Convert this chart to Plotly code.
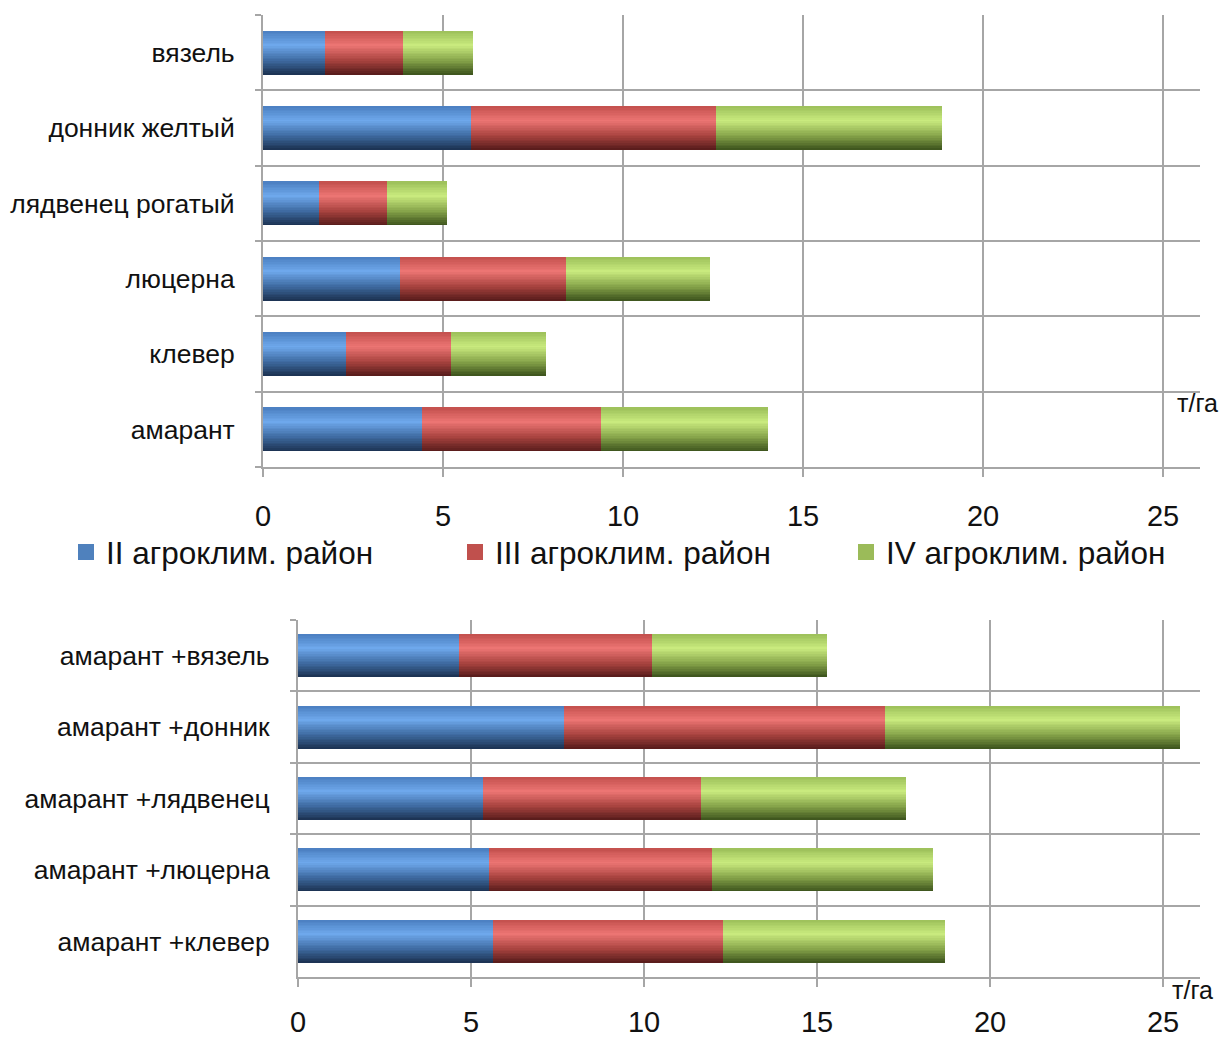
import numpy as np
import plotly.graph_objects as go

# Yields, t/ha, by agro-climatic district
crops_top = ["вязель", "донник желтый", "лядвенец рогатый", "люцерна", "клевер", "амарант"]
top_ii = [1.72, 5.78, 1.56, 3.81, 2.31, 4.42]
top_iii = [2.17, 6.80, 1.88, 4.61, 2.91, 4.97]
top_iv = [1.94, 6.28, 1.67, 4.00, 2.64, 4.64]

crops_bottom = ["амарант +вязель", "амарант +донник", "амарант +лядвенец",
                "амарант +люцерна", "амарант +клевер"]
bot_ii = [4.65, 7.69, 5.35, 5.52, 5.64]
bot_iii = [5.58, 9.28, 6.30, 6.45, 6.64]
bot_iv = [5.06, 8.52, 5.92, 6.38, 6.42]

series_names = ["II агроклим. район", "III агроклим. район", "IV агроклим. район"]
x_ticks = [0, 5, 10, 15, 20, 25]

FONT = "Liberation Sans, Arial, sans-serif"
GRID = "#a6a6a6"

# gradient stops (t=0 top edge of the bar, t=1 bottom edge)
ramps = [
    [(0.0, "#4b7fc0"), (0.33, "#6ea8ec"), (0.68, "#3e6aa0"), (1.0, "#1b3150")],
    [(0.0, "#c3504d"), (0.33, "#ec7573"), (0.68, "#a8433f"), (1.0, "#561b1a")],
    [(0.0, "#9cbf5a"), (0.33, "#c9ea7e"), (0.68, "#86a44a"), (1.0, "#3b521c")],
]
legend_colors = ["#4f81bd", "#c0504d", "#9bbb59"]


def hex2rgb(h):
    h = h.lstrip("#")
    return np.array([int(h[i:i + 2], 16) for i in (0, 2, 4)], dtype=float)


def ramp_color(stops, t):
    for (t0, c0), (t1, c1) in zip(stops[:-1], stops[1:]):
        if t <= t1:
            f = (t - t0) / (t1 - t0)
            c = hex2rgb(c0) * (1 - f) + hex2rgb(c1) * f
            return "rgb(%d,%d,%d)" % tuple(np.round(c))
    return stops[-1][1]


fig = go.Figure()
N = 26


def add_chart(cats, series, xref, yref, bw):
    seg = np.array(series, dtype=float)
    base = np.vstack([np.zeros(seg.shape[1]), np.cumsum(seg, axis=0)[:-1]])
    sw = bw / N
    for k in range(len(series)):
        for i in range(N):
            t = 1 - (i + 0.5) / N
            fig.add_trace(go.Bar(
                y=cats, x=seg[k], base=base[k], orientation="h",
                width=sw * (1.6 if i < N - 1 else 1.0), offset=-bw / 2 + i * sw,
                marker=dict(color=ramp_color(ramps[k], t), line=dict(width=0)),
                showlegend=False, hoverinfo="skip",
                xaxis=xref, yaxis=yref,
            ))


add_chart(crops_top, [top_ii, top_iii, top_iv], "x", "y", 0.58)
add_chart(crops_bottom, [bot_ii, bot_iii, bot_iv], "x2", "y2", 0.6)

# one legend box per district, laid out in a row under the upper chart
legend_ids = ["legend", "legend2", "legend3"]
for name, col, lid in zip(series_names, legend_colors, legend_ids):
    fig.add_trace(go.Scatter(x=[None], y=[None], mode="markers", name=name,
                             marker=dict(symbol="square", size=16, color=col),
                             xaxis="x", yaxis="y", legend=lid))

W, H = 1221, 1039
axis_common = dict(
    showgrid=True, gridcolor=GRID, gridwidth=2,
    showline=True, linecolor=GRID, linewidth=2,
    ticks="outside", tickcolor=GRID, tickwidth=2,
    zeroline=False, automargin=False,
    tickfont=dict(family=FONT, size=29, color="#111"),
)
ycat_font = dict(family=FONT, size=26.5, color="#111")


def legend_box(x_px):
    return dict(orientation="h", x=x_px / W, xanchor="left", y=1 - 552 / H,
                yanchor="middle", itemwidth=30, bgcolor="rgba(0,0,0,0)",
                font=dict(family=FONT, size=31.5, color="#111"))


fig.update_layout(
    width=W, height=H,
    margin=dict(l=0, r=0, t=0, b=0),
    paper_bgcolor="white", plot_bgcolor="white",
    barmode="overlay", bargap=0,
    font=dict(family=FONT, color="#111"),
    xaxis=dict(axis_common, domain=[263 / W, 1200 / W], range=[0, 25 * 937 / 900],
               tickvals=x_ticks, ticklen=8, ticklabelstandoff=14, anchor="y"),
    yaxis=dict(axis_common, domain=[1 - 467 / H, 1 - 15 / H], type="category",
               categoryorder="array", categoryarray=crops_top[::-1],
               tickson="boundaries", ticklen=6, ticklabelstandoff=21,
               tickfont=ycat_font,
               range=[-0.5, len(crops_top) - 0.5], anchor="x"),
    xaxis2=dict(axis_common, domain=[298 / W, 1200 / W], range=[0, 25 * 902 / 865],
                tickvals=x_ticks, ticklen=8, ticklabelstandoff=10, anchor="y2"),
    yaxis2=dict(axis_common, domain=[1 - 977 / H, 1 - 620 / H], type="category",
                categoryorder="array", categoryarray=crops_bottom[::-1],
                tickson="boundaries", ticklen=6, ticklabelstandoff=21,
                tickfont=ycat_font,
                range=[-0.5, len(crops_bottom) - 0.5], anchor="x2"),
    legend=legend_box(66),
    legend2=legend_box(455),
    legend3=legend_box(846),
    annotations=[
        dict(text="т/га", xref="paper", yref="paper", x=1175 / W, y=1 - 403 / H,
             xanchor="left", yanchor="middle", showarrow=False,
             font=dict(family=FONT, size=25, color="#111")),
        dict(text="т/га", xref="paper", yref="paper", x=1170 / W, y=1 - 990 / H,
             xanchor="left", yanchor="middle", showarrow=False,
             font=dict(family=FONT, size=25, color="#111")),
    ],
)

fig.write_html("out.html")
